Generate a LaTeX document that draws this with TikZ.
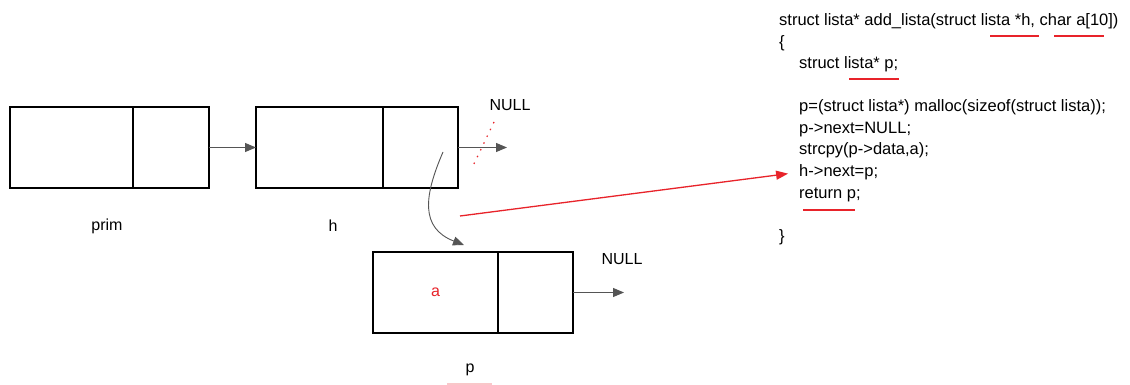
\documentclass[tikz,border=0pt]{standalone}
\usepackage{fontspec}
\setmainfont{Liberation Sans}
\usetikzlibrary{arrows.meta}

\definecolor{ptrgray}{HTML}{555555}
\definecolor{markred}{HTML}{E8232A}

% one list element: #1 name, #2 x, #3 y (top left), #4 data width, #5 next width
\newcommand{\listnode}[5]{%
	\node[cell, minimum width=#4pt] (#1data) at (#2,#3) {};
	\node[cell, minimum width=#5pt, anchor=north west] (#1next) at (#1data.north east) {};
}
% hand drawn red underline: #1 x1, #2 x2, #3 y
\newcommand{\redline}[3]{\draw[markred,line width=1.3pt] (#1,#3) -- (#2,#3);}

\tikzset{
	cell/.style={draw=black, line width=2.6pt, anchor=north west, minimum height=81pt, inner sep=0pt, outer sep=0pt},
	ptr/.style={ptrgray, line width=1.1pt, -{Triangle[length=11pt,width=9pt]}},
	redptr/.style={markred, line width=1.3pt, -{Triangle[length=12pt,width=9pt]}},
	lbl/.style={font=\fontsize{16}{18}\selectfont},
	code/.style={anchor=base west, inner sep=0pt, font=\fontsize{16.5}{20}\selectfont}
}

\begin{document}
\begin{tikzpicture}[x=1pt,y=-1pt]
	\useasboundingbox (0,0) rectangle (1130,385);
	\fill[white] (0,0) rectangle (1130,385);

	% the three list elements
	\listnode{prim}{10}{107}{123}{76}
	\listnode{h}{256}{107}{127}{75}
	\listnode{p}{373}{252}{125}{75}

	\node[lbl] (primlbl) at (107,226) {prim};
	\node[lbl] (hlbl) at (333,226) {h};
	\node[lbl] (plbl) at (470,370) {p};
	\node[lbl, text=markred] (pval) at (pdata.center) {a};
	\node[lbl] (hnull) at (510,105) {NULL};
	\node[lbl] (pnull) at (622,259) {NULL};

	% free ends of the pointers
	\coordinate (hend) at (507,147.5);
	\coordinate (pend) at (624,292.5);
	\coordinate (hcurl) at (443,152);
	\coordinate (ptop) at (464,245);
	\coordinate (hlink) at (460,216);

	% next pointers
	\draw[ptr] (primnext.east) -- (hdata.west);
	\draw[ptr] (hnext.east) -- (hend);
	\draw[ptr] (pnext.east) -- (pend);
	\draw[ptr, line width=0.9pt] (hcurl) .. controls (424,196) and (420,228) .. (ptop);

	% old link crossed out
	\draw[markred, line width=1.2pt, dash pattern=on 1.5pt off 6pt] (494,122) -- (472,168);

	% the function
	\node[code] (l1) at (779,26) {struct lista* add\_lista(struct lista *h, char a[10])};
	\node[code] (l2) at (779,47.5) {\{};
	\node[code] (l3) at (799,69) {struct lista* p;};
	\node[code] (l5) at (799,112) {p=(struct lista*) malloc(sizeof(struct lista));};
	\node[code] (l6) at (799,133.5) {p->next=NULL;};
	\node[code] (l7) at (799,155) {strcpy(p->data,a);};
	\node[code] (l8) at (799,176.5) {h->next=p;};
	\node[code] (l9) at (799,198) {return p;};
	\node[code] (l11) at (779,241) {\}};

	\draw[redptr, shorten >=11pt] (hlink) -- (l8.west);

	% underlines
	\redline{990}{1039}{36}
	\redline{1054}{1104}{36}
	\redline{849}{899}{79}
	\redline{803}{855}{210}
	\draw[markred, line width=1.3pt, opacity=0.25] (447,384) -- (492,384);
\end{tikzpicture}
\end{document}
